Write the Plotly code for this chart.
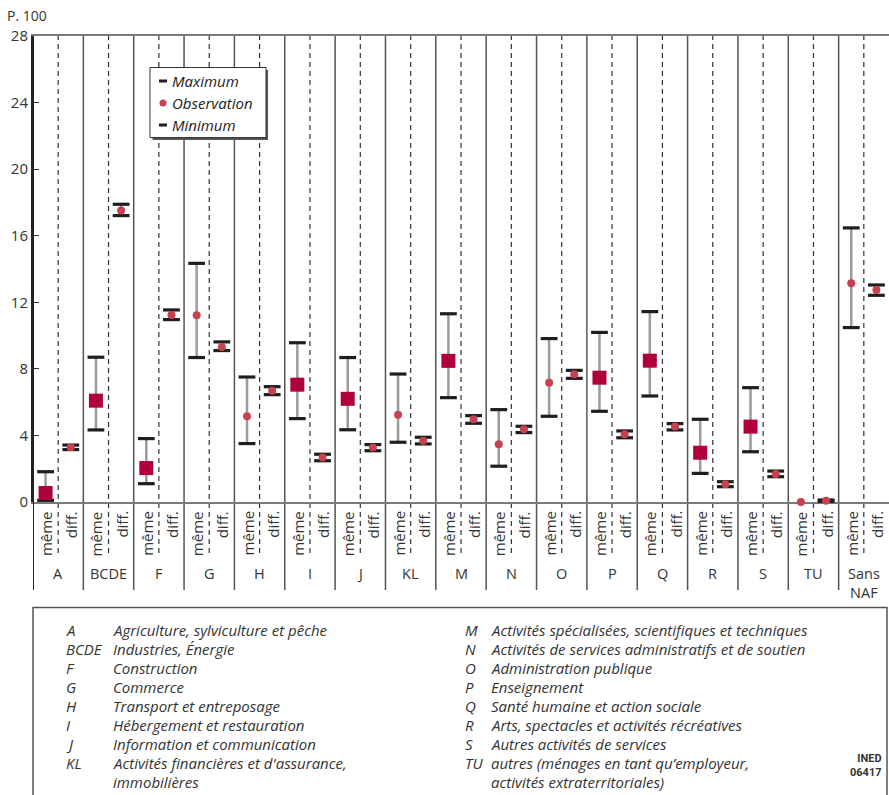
import numpy as np
import plotly.graph_objects as go

# Secteurs d'activité (code NAF regroupé)
secteurs = ["A", "BCDE", "F", "G", "H", "I", "J", "KL", "M", "N", "O",
            "P", "Q", "R", "S", "TU", "Sans<br>NAF"]

# Même secteur : observation, maximum et minimum (p. 100)
meme_obs = [0.54, 6.09, 2.04, 11.22, 5.15, 7.05, 6.20, 5.25, 8.48, 3.47, 7.17,
            7.47, 8.49, 2.96, 4.53, 0.00, 13.14]
meme_max = [1.82, 8.70, 3.81, 14.34, 7.51, 9.57, 8.68, 7.69, 11.31, 5.55, 9.82,
            10.19, 11.44, 4.97, 6.87, None, 16.47]
meme_min = [0.10, 4.33, 1.10, 8.68, 3.51, 5.01, 4.34, 3.59, 6.27, 2.15, 5.15,
            5.45, 6.37, 1.72, 3.02, None, 10.48]
# Observation hors de l'intervalle : marqueur carré
meme_hors = [True, True, True, False, False, True, True, False, True, False, False,
             True, True, True, True, False, False]

# Secteurs différents : observation, maximum et minimum (p. 100)
diff_obs = [3.29, 17.52, 11.24, 9.32, 6.69, 2.67, 3.27, 3.68, 4.97, 4.37, 7.67,
            4.07, 4.53, 1.06, 1.68, 0.08, 12.74]
diff_max = [3.42, 17.89, 11.54, 9.62, 6.93, 2.87, 3.45, 3.89, 5.19, 4.55, 7.91,
            4.27, 4.71, 1.22, 1.86, 0.12, 13.04]
diff_min = [3.15, 17.21, 10.96, 9.10, 6.45, 2.48, 3.08, 3.49, 4.73, 4.17, 7.43,
            3.86, 4.33, 0.92, 1.52, 0.04, 12.42]

y_ticks = [0, 4, 8, 12, 16, 20, 24, 28]

codes_gauche = ["A", "BCDE", "F", "G", "H", "I", "J", "KL", ""]
libelles_gauche = ["Agriculture, sylviculture et pêche", "Industries, Énergie",
                   "Construction", "Commerce", "Transport et entreposage",
                   "Hébergement et restauration", "Information et communication",
                   "Activités financières et d'assurance,", "immobilières"]
codes_droite = ["M", "N", "O", "P", "Q", "R", "S", "TU", ""]
libelles_droite = ["Activités spécialisées, scientifiques et techniques",
                   "Activités de services administratifs et de soutien",
                   "Administration publique", "Enseignement",
                   "Santé humaine et action sociale",
                   "Arts, spectacles et activités récréatives",
                   "Autres activités de services",
                   "autres (ménages en tant qu’employeur,",
                   "activités extraterritoriales)"]

# ---- mise en page (pixels) ----
W, H = 889, 795
ML, MR, MT, MB = 33, 0, 36, 293
PW, PH = W - ML - MR, H - MT - MB
FONT = "Open Sans"
TXT = "#333333"


def px_x(px):
    return (px - ML) / PW


def px_y(py):
    return (MT + PH - py) / PH


n = len(secteurs)
idx = np.arange(n)
x_meme = idx + 0.25
x_diff = idx + 0.75

fig = go.Figure()

pairs = list(zip(x_meme, meme_min, meme_max)) + list(zip(x_diff, diff_min, diff_max))

# Barres grises entre minimum et maximum
xs, ys = [], []
for x, lo, hi in pairs:
    if lo is None or hi is None:
        continue
    xs += [x, x, None]
    ys += [lo, hi, None]
fig.add_trace(go.Scatter(x=xs, y=ys, mode="lines", hoverinfo="skip",
                         line=dict(color="#9b9b9b", width=2.5), showlegend=False))

# Repères du maximum et du minimum
cap_x, cap_y = [], []
for x, lo, hi in pairs:
    if lo is None or hi is None:
        continue
    cap_x += [x, x]
    cap_y += [lo, hi]
fig.add_trace(go.Scatter(x=cap_x, y=cap_y, mode="markers", cliponaxis=False,
                         marker=dict(symbol="line-ew", size=12,
                                     line=dict(color="#1e1e1e", width=3.2)),
                         showlegend=False))

# Observations : carrés et points
sq = [i for i in range(n) if meme_hors[i]]
ci = [i for i in range(n) if not meme_hors[i]]
fig.add_trace(go.Scatter(x=x_meme[sq], y=[meme_obs[i] for i in sq], mode="markers",
                         cliponaxis=False,
                         marker=dict(symbol="square", size=14, color="#b0003a"),
                         showlegend=False))
fig.add_trace(go.Scatter(x=list(x_meme[ci]) + list(x_diff),
                         y=[meme_obs[i] for i in ci] + diff_obs, mode="markers",
                         cliponaxis=False,
                         marker=dict(symbol="circle", size=8, color="#c8414f"),
                         showlegend=False))

shapes = []
annotations = []

# Séparateurs verticaux (secteurs) prolongés dans la zone des libellés
for k in range(1, n):
    shapes.append(dict(type="line", xref="x", yref="paper", x0=k, x1=k,
                       y0=px_y(590), y1=1, layer="below",
                       line=dict(color="#555555", width=1.5)))
shapes.append(dict(type="line", xref="x", yref="paper", x0=0, x1=0,
                   y0=px_y(590), y1=1, line=dict(color="#222222", width=2)))
for k in range(n):
    shapes.append(dict(type="line", xref="x", yref="paper", x0=k + 0.5, x1=k + 0.5,
                       y0=px_y(553), y1=1, layer="below",
                       line=dict(color="#333333", width=1.2, dash="5px,4px")))

# Libellés sous l'axe
for k in range(n):
    annotations.append(dict(x=x_meme[k], y=px_y(509), xref="x", yref="paper",
                            text="même", textangle=-90, showarrow=False,
                            xanchor="center", yanchor="top",
                            font=dict(family=FONT, size=15, color=TXT)))
    annotations.append(dict(x=x_diff[k], y=px_y(509), xref="x", yref="paper",
                            text="diff.", textangle=-90, showarrow=False,
                            xanchor="center", yanchor="top",
                            font=dict(family=FONT, size=15, color=TXT)))
    annotations.append(dict(x=k + 0.5, y=px_y(562), xref="x", yref="paper",
                            text=secteurs[k], showarrow=False,
                            xanchor="center", yanchor="top",
                            font=dict(family=FONT, size=14.5, color=TXT)))

# Unité
annotations.append(dict(x=px_x(5), y=px_y(15), xref="paper", yref="paper",
                        text="P. 100", showarrow=False, xanchor="left",
                        yanchor="middle", font=dict(family=FONT, size=14, color=TXT)))

# Légende des marqueurs
shapes.append(dict(type="rect", xref="paper", yref="paper",
                   x0=px_x(152.5), x1=px_x(268), y0=px_y(140), y1=px_y(70),
                   fillcolor="#555555", line=dict(width=0)))
shapes.append(dict(type="rect", xref="paper", yref="paper",
                   x0=px_x(150), x1=px_x(266), y0=px_y(137.5), y1=px_y(67.5),
                   fillcolor="white", line=dict(color="#333333", width=1)))
for py in (81, 125):
    shapes.append(dict(type="rect", xref="paper", yref="paper",
                       x0=px_x(159), x1=px_x(167), y0=px_y(py + 1.5), y1=px_y(py - 1.5),
                       fillcolor="#1e1e1e", line=dict(width=0)))
shapes.append(dict(type="circle", xref="paper", yref="paper",
                   x0=px_x(159.5), x1=px_x(166.5), y0=px_y(106.5), y1=px_y(99.5),
                   fillcolor="#c8414f", line=dict(width=0)))
for py, t in ((81, "Maximum"), (103, "Observation"), (125, "Minimum")):
    annotations.append(dict(x=px_x(170), y=px_y(py), xref="paper", yref="paper",
                            text=f"<i>{t}</i>", showarrow=False, xanchor="left",
                            yanchor="middle",
                            font=dict(family=FONT, size=15, color="#222222")))

# Encadré des nomenclatures
shapes.append(dict(type="rect", xref="paper", yref="paper",
                   x0=px_x(33), x1=px_x(887), y0=px_y(805), y1=px_y(607.5),
                   line=dict(color="#555555", width=1.5)))
for k in range(len(codes_gauche)):
    py = 629.5 + 19.1 * k
    for (xc, xl, codes, libs) in ((64, 111, codes_gauche, libelles_gauche),
                                  (463, 489, codes_droite, libelles_droite)):
        if codes[k]:
            annotations.append(dict(x=px_x(xc), y=px_y(py), xref="paper", yref="paper",
                                    text=f"<i>{codes[k]}</i>", showarrow=False,
                                    xanchor="left", yanchor="middle",
                                    font=dict(family=FONT, size=15, color=TXT)))
        annotations.append(dict(x=px_x(xl), y=px_y(py), xref="paper", yref="paper",
                                text=f"<i>{libs[k]}</i>", showarrow=False,
                                xanchor="left", yanchor="middle",
                                font=dict(family=FONT, size=15, color=TXT)))

annotations.append(dict(x=px_x(884), y=px_y(765), xref="paper", yref="paper",
                        text="<b>INED</b><br><b>06417</b>", showarrow=False,
                        xanchor="right", yanchor="middle", align="right",
                        font=dict(family="Roboto", size=11, color="#333333")))

fig.update_layout(
    width=W, height=H,
    margin=dict(l=ML, r=MR, t=MT, b=MB, pad=0),
    paper_bgcolor="white", plot_bgcolor="white",
    showlegend=False,
    shapes=shapes, annotations=annotations,
    xaxis=dict(range=[0, n], showgrid=False, zeroline=False, showticklabels=False,
               ticks="", showline=True, linecolor="#7a7a7a", linewidth=2,
               mirror=True, layer="below traces", fixedrange=True),
    yaxis=dict(range=[0, 28], tickvals=y_ticks, showgrid=False, zeroline=False,
               ticks="inside", ticklen=6, tickwidth=1, tickcolor="#333333",
               showline=True, linecolor="#222222", linewidth=2,
               tickfont=dict(family=FONT, size=15, color=TXT),
               layer="below traces", fixedrange=True),
)

fig.write_html("out.html")
